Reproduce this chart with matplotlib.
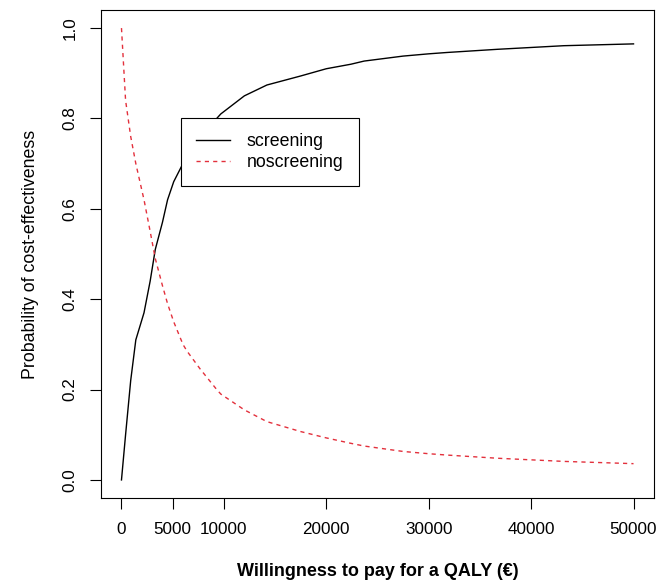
import matplotlib
matplotlib.use("Agg")
import matplotlib.pyplot as plt

# curva de aceitabilidade (CEAC)
wtp = [0, 400, 900, 1400, 2200, 2800, 3300, 4000, 4500, 5100, 6000, 6400, 7700,
       9300, 9700, 12000, 14200, 17500, 20000, 22400, 23700, 27500, 30000,
       31800, 36700, 43200, 50000]
screening = [0.0, 0.10, 0.22, 0.31, 0.37, 0.44, 0.51, 0.57, 0.62, 0.66, 0.70,
             0.715, 0.76, 0.80, 0.81, 0.85, 0.874, 0.894, 0.91, 0.92, 0.927,
             0.938, 0.943, 0.946, 0.953, 0.961, 0.965]
noscreening = [1.0, 0.84, 0.76, 0.70, 0.62, 0.55, 0.49, 0.43, 0.39, 0.35, 0.30,
               0.285, 0.245, 0.20, 0.19, 0.155, 0.129, 0.107, 0.093, 0.081,
               0.075, 0.063, 0.058, 0.055, 0.048, 0.041, 0.036]

xticks = [0, 5000, 10000, 20000, 30000, 40000, 50000]
yticks = [0.0, 0.2, 0.4, 0.6, 0.8, 1.0]

plt.rcParams['font.family'] = ['Liberation Sans', 'DejaVu Sans']
plt.rcParams['lines.scale_dashes'] = False

fig = plt.figure(figsize=(6.61, 5.86), dpi=100)
ax = fig.add_axes([101 / 661, 88 / 586, 553 / 661, 488 / 586])

ax.plot(wtp, screening, color="black", lw=1.0, label="screening")
ax.plot(wtp, noscreening, color="#E3303C", lw=1.0, dashes=(3.0, 3.0), label="noscreening")

ax.set_xlim(-2000, 52000)
ax.set_ylim(-0.04, 1.04)
ax.set_xticks(xticks)
ax.set_xticklabels([str(t) for t in xticks])
ax.set_yticks(yticks)
ax.set_yticklabels(["%.1f" % t for t in yticks], rotation=90, va="center")
ax.tick_params(direction="out", length=8, width=0.8, pad=9, labelsize=12.3)

for s in ax.spines.values():
    s.set_linewidth(0.8)

ax.set_xlabel("Willingness to pay for a QALY (€)", fontsize=13, fontweight="bold", labelpad=19)
ax.set_ylabel("Probability of cost-effectiveness", fontsize=12.8, labelpad=17)

leg = ax.legend(loc="upper left", bbox_to_anchor=(80 / 553, 380 / 488), fontsize=12.8,
                fancybox=False, edgecolor="black", framealpha=1, borderaxespad=0,
                handlelength=1.9, handletextpad=0.95, borderpad=0.85, labelspacing=0.22)
leg.get_frame().set_linewidth(0.8)

plt.savefig("out.png", dpi=100)
